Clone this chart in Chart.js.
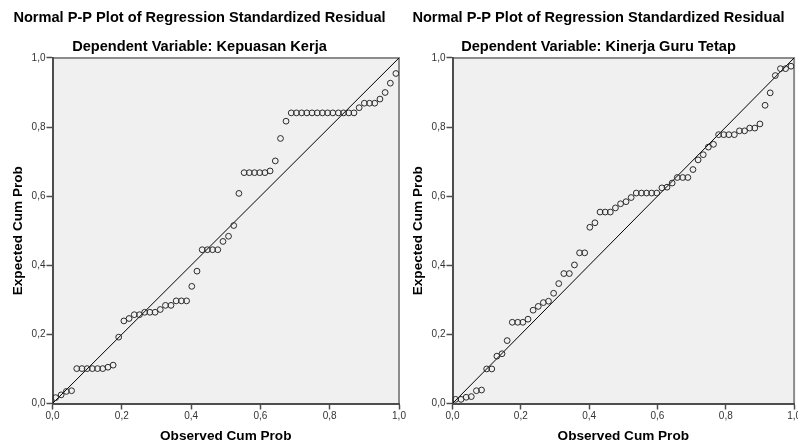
<!DOCTYPE html>
<html>
<head>
<meta charset="utf-8">
<script src="https://cdn.jsdelivr.net/npm/chart.js@4.4.1/dist/chart.umd.min.js"></script>
<style>
body { margin: 0; background: #fff; }
#wrap { position: relative; width: 798px; height: 445px; overflow: hidden; }
canvas { position: absolute; top: 0; }
</style>
</head>
<body>
<div id="wrap">
<canvas id="ppLeft" width="410" height="445" style="left:0"></canvas>
<canvas id="ppRight" width="398" height="445" style="left:400px"></canvas>
</div>
<script>
// observed cum prob (same for both plots, 66 cases)
const observed = [0.009,0.025,0.040,0.055,0.070,0.085,0.100,0.115,0.130,0.145,
    0.160,0.175,0.191,0.206,0.221,0.236,0.251,0.266,0.281,0.296,
    0.311,0.326,0.342,0.357,0.372,0.387,0.402,0.417,0.432,0.447,
    0.462,0.477,0.492,0.508,0.523,0.538,0.553,0.568,0.583,0.598,
    0.613,0.628,0.643,0.658,0.674,0.689,0.704,0.719,0.734,0.749,
    0.764,0.779,0.794,0.809,0.825,0.840,0.855,0.870,0.885,0.900,
    0.915,0.930,0.945,0.960,0.975,0.991];

// expected cum prob, Kepuasan Kerja
const expectedKepuasan = [0.017,0.025,0.035,0.037,0.101,0.101,0.101,0.101,0.101,0.101,
    0.105,0.111,0.192,0.239,0.246,0.257,0.257,0.264,0.264,0.264,
    0.272,0.284,0.284,0.297,0.297,0.297,0.339,0.383,0.445,0.445,
    0.445,0.445,0.469,0.484,0.515,0.608,0.668,0.668,0.668,0.668,
    0.668,0.673,0.702,0.767,0.817,0.841,0.841,0.841,0.841,0.841,
    0.841,0.841,0.841,0.841,0.841,0.841,0.841,0.841,0.856,0.869,
    0.869,0.869,0.881,0.900,0.927,0.955];

// expected cum prob, Kinerja Guru Tetap
const expectedKinerja = [0.012,0.012,0.018,0.020,0.037,0.039,0.100,0.100,0.137,0.144,
    0.182,0.235,0.235,0.235,0.244,0.270,0.281,0.292,0.296,0.319,
    0.347,0.376,0.376,0.401,0.436,0.436,0.510,0.523,0.554,0.554,
    0.554,0.566,0.578,0.584,0.596,0.609,0.609,0.609,0.609,0.609,
    0.624,0.626,0.638,0.654,0.654,0.654,0.677,0.705,0.720,0.742,
    0.750,0.778,0.778,0.778,0.778,0.789,0.789,0.797,0.797,0.809,
    0.863,0.899,0.949,0.969,0.969,0.976];

const diagonal = [0, 1];
const tickValues = [0, 0.2, 0.4, 0.6, 0.8, 1.0];
const mainTitle = 'Normal P-P Plot of Regression Standardized Residual';
const subtitleLeft = 'Dependent Variable: Kepuasan Kerja';
const subtitleRight = 'Dependent Variable: Kinerja Guru Tetap';

const FONT = "'Liberation Sans', Arial, sans-serif";
const AXIS_COLOR = '#4d4d4d';

// grey plot background + light frame on top/right
const plotFrame = {
    id: 'plotFrame',
    beforeDraw(chart) {
        const a = chart.chartArea;
        const ctx = chart.ctx;
        ctx.save();
        ctx.fillStyle = '#f0f0f0';
        ctx.fillRect(a.left, a.top, a.right - a.left, a.bottom - a.top);
        ctx.strokeStyle = '#8c8c8c';
        ctx.lineWidth = 2;
        ctx.beginPath();
        ctx.moveTo(a.left, a.top);
        ctx.lineTo(a.right, a.top);
        ctx.lineTo(a.right, a.bottom);
        ctx.stroke();
        ctx.restore();
    }
};

function fmt(v) {
    return v.toFixed(1).replace('.', ',');
}

function axisOptions(titleText, isX) {
    return {
        type: 'linear',
        position: isX ? 'bottom' : 'left',
        min: 0,
        max: 1,
        afterBuildTicks: s => { s.ticks = tickValues.map(v => ({ value: v })); },
        afterFit: s => {
            if (isX) { s.height = 41.5; s.paddingLeft = 0; s.paddingRight = 0; }
            else { s.width = 52.5; s.paddingTop = 0; s.paddingBottom = 0; }
        },
        border: { display: true, color: AXIS_COLOR, width: 2 },
        grid: { display: true, drawOnChartArea: false, tickLength: 6, tickColor: AXIS_COLOR, tickWidth: 1.5 },
        ticks: {
            color: '#333',
            padding: 1,
            maxRotation: 0,
            font: { family: FONT, size: 10 },
            callback: v => fmt(v)
        },
        title: {
            display: true,
            text: titleText,
            color: '#000',
            font: { family: FONT, size: 13.6, weight: 'bold' },
            padding: isX ? { top: 0, bottom: 0.8 } : { top: 10, bottom: 0 }
        }
    };
}

function createPPPlot(canvasId, subtitleText, expected, padRight) {
    const ctx = document.getElementById(canvasId).getContext('2d');
    return new Chart(ctx, {
        type: 'scatter',
        data: {
            datasets: [{
                label: 'Residual',
                data: observed.map((x, i) => ({ x: x, y: expected[i] })),
                showLine: false,
                pointRadius: 2.9,
                pointBorderWidth: 1,
                borderColor: '#2b2b2b',
                backgroundColor: 'rgba(0,0,0,0)',
                pointHoverRadius: 2.9
            }, {
                label: 'Diagonal',
                data: diagonal.map(v => ({ x: v, y: v })),
                showLine: true,
                borderColor: '#000',
                borderWidth: 1,
                pointRadius: 0
            }]
        },
        options: {
            responsive: false,
            animation: false,
            layout: { padding: { left: 0, right: padRight, top: 0, bottom: 0 } },
            scales: {
                x: axisOptions('Observed Cum Prob', true),
                y: axisOptions('Expected Cum Prob', false)
            },
            plugins: {
                legend: { display: false },
                tooltip: { enabled: false },
                title: {
                    display: true,
                    text: mainTitle,
                    color: '#000',
                    font: { family: FONT, size: 14.6, weight: 'bold' },
                    padding: { top: 9.2, bottom: 0 }
                },
                subtitle: {
                    display: true,
                    text: subtitleText,
                    color: '#000',
                    font: { family: FONT, size: 14.6, weight: 'bold' },
                    padding: { top: 11.5, bottom: 2.2 }
                }
            }
        },
        plugins: [plotFrame]
    });
}

// left canvas is a bit wider so its last x label is not cut off
createPPPlot('ppLeft', subtitleLeft, expectedKepuasan, 11);
createPPPlot('ppRight', subtitleRight, expectedKinerja, 1);
</script>
</body>
</html>
